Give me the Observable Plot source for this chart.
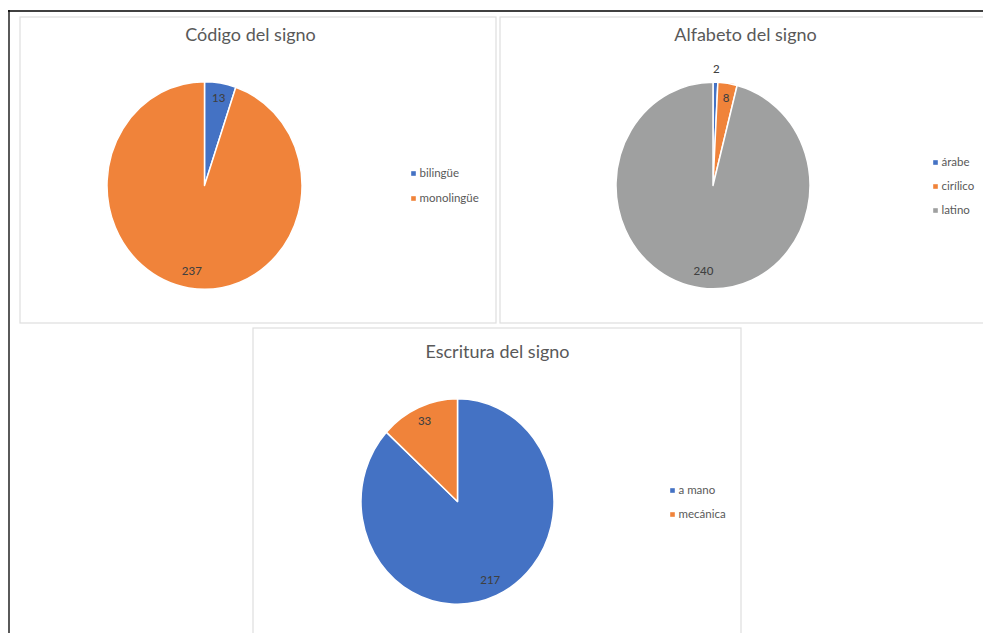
<!DOCTYPE html>
<html>
<head>
<meta charset="utf-8">
<script src="https://cdn.jsdelivr.net/npm/d3@7"></script>
<script src="https://cdn.jsdelivr.net/npm/@observablehq/plot@0.6"></script>
<style>
  html, body { margin: 0; padding: 0; background: #ffffff; }
  #chart svg { display: block; }
</style>
</head>
<body>
<div id="chart"></div>
<script>
// ---------- data ----------
const codigoCategories = ["bilingüe", "monolingüe"];
const codigoValues = [13, 237];
const alfabetoCategories = ["árabe", "cirílico", "latino"];
const alfabetoValues = [2, 8, 240];
const escrituraCategories = ["a mano", "mecánica"];
const escrituraValues = [217, 33];
const chartTitles = ["Código del signo", "Alfabeto del signo", "Escritura del signo"];

// ---------- styling / layout ----------
const palette = ["#4472C4", "#F0833A", "#9FA0A0"];
const FONT = "Lato, 'Open Sans', sans-serif";
const W = 983, H = 633;
const SY = 1.065; // vertical stretch of the original picture

const panels = [
  {cats: codigoCategories, vals: codigoValues, title: chartTitles[0],
   box: [20, 17, 496, 323], cx: 204.5, cy: 185.5, r: 97.5, tx: 250, ty: 35,
   lx: 413, ly: 173, lstep: 25},
  {cats: alfabetoCategories, vals: alfabetoValues, title: chartTitles[1],
   box: [500, 17, 990, 323], cx: 713, cy: 185.5, r: 97, tx: 745, ty: 35,
   lx: 935, ly: 162, lstep: 24},
  {cats: escrituraCategories, vals: escrituraValues, title: chartTitles[2],
   box: [253, 328, 741, 640], cx: 457.5, cy: 501.5, r: 96.5, tx: 497, ty: 352,
   lx: 672, ly: 490, lstep: 24}
];

// derived tables
const boxes = panels.map(p => ({x1: p.box[0], y1: p.box[1], x2: p.box[2], y2: p.box[3]}));
const titles = panels.map(p => ({x: p.tx, y: p.ty, text: p.title}));
const legend = panels.flatMap(p => p.cats.map((c, i) => ({
  x: p.lx, y: p.ly + i * p.lstep, text: c, color: palette[i]
})));
const labels = panels.flatMap(p => {
  const arcs = d3.pie().sort(null).value(d => d)(p.vals);
  const total = d3.sum(p.vals);
  return arcs.map(a => {
    const mid = (a.startAngle + a.endAngle) / 2;
    const outside = a.value / total < 0.02;
    const big = a.value / total > 0.5;
    const rl = outside ? p.r * 1.13 : p.r * (big ? 0.83 : 0.86);
    return {x: p.cx + Math.sin(mid) * rl, y: p.cy - Math.cos(mid) * rl * SY, text: String(a.value)};
  });
});

function pieMark(p) {
  return (index, {x, y}) => {
    const g = d3.create("svg:g")
      .attr("transform", `translate(${x(p.cx)},${y(p.cy)}) scale(1,${SY})`);
    const arcs = d3.pie().sort(null).value(d => d)(p.vals);
    const arc = d3.arc().innerRadius(0).outerRadius(p.r);
    g.selectAll("path").data(arcs).join("path")
      .attr("d", arc)
      .attr("fill", (d, i) => palette[i])
      .attr("stroke", "#ffffff")
      .attr("stroke-width", 1.5)
      .attr("stroke-linejoin", "round");
    return g.node();
  };
}

const chart = Plot.plot({
  width: W, height: H,
  margin: 0,
  style: {background: "#ffffff", fontFamily: FONT},
  x: {domain: [0, W], range: [0, W], axis: null},
  y: {domain: [0, H], range: [0, H], axis: null},
  marks: [
    Plot.rect(boxes, {x1: "x1", y1: "y1", x2: "x2", y2: "y2", fill: "none", stroke: "#dedede", strokeWidth: 1.2}),
    // outer frame
    Plot.ruleY([10.5], {x1: 8, x2: W, stroke: "#000", strokeWidth: 1.3}),
    Plot.ruleX([8.5], {y1: 10, y2: H, stroke: "#000", strokeWidth: 1.3}),
    ...panels.map(p => pieMark(p)),
    Plot.text(labels, {x: "x", y: "y", text: "text", fill: "#404040", fontSize: 11.5, fontWeight: 500, lineAnchor: "middle", textAnchor: "middle"}),
    Plot.text(titles, {x: "x", y: "y", text: "text", fill: "#595959", fontSize: 18, lineAnchor: "middle", textAnchor: "middle"}),
    Plot.dot(legend, {x: "x", y: "y", symbol: "square", r: 2.6, fill: "color", stroke: null}),
    Plot.text(legend, {x: "x", y: "y", text: "text", dx: 6, fill: "#595959", fontSize: 11.5, lineAnchor: "middle", textAnchor: "start"})
  ]
});
document.getElementById("chart").append(chart);
</script>
</body>
</html>
